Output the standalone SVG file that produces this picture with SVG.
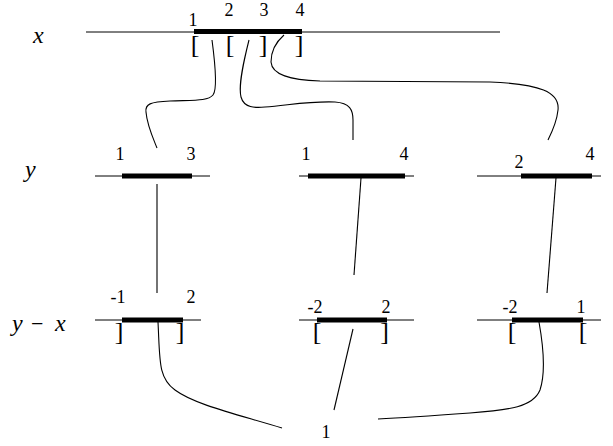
<svg xmlns="http://www.w3.org/2000/svg" width="613" height="446" viewBox="0 0 613 446">
<style>
.axis{stroke:#000;stroke-width:1;fill:none}
.bar{stroke:#000;stroke-width:5;fill:none}
.conn{stroke:#000;stroke-width:1.1;fill:none}
.num{font-size:18px;fill:#000;text-anchor:middle}
.br{font-size:26px;fill:#000}
.var{font-size:24px;font-style:italic;fill:#000}
.op{font-size:22px;font-style:normal;fill:#000}
</style>
<rect width="613" height="446" fill="#fff"/>
<g font-family="'Liberation Serif', 'DejaVu Serif', serif">
<g id="labels">
<text class="var" x="33" y="43">x</text>
<text class="var" x="25" y="177">y</text>
<text class="var" y="331"><tspan x="12">y</tspan><tspan class="op" x="31">−</tspan><tspan x="55">x</tspan></text>
</g>
<g id="x-row">
<line class="axis" x1="86" y1="32" x2="500" y2="32"/>
<line class="bar" x1="194" y1="31.5" x2="302" y2="31.5"/>
<text class="num" x="193" y="26">1</text>
<text class="num" x="229" y="16">2</text>
<text class="num" x="264" y="16">3</text>
<text class="num" x="300" y="16">4</text>
<text class="br" x="190.7" y="53">[</text>
<text class="br" x="225.7" y="53">[</text>
<text class="br" x="258.7" y="53">]</text>
<text class="br" x="294.7" y="53">]</text>
</g>
<g id="y-1">
<line class="axis" x1="95" y1="176" x2="210" y2="176"/>
<line class="bar" x1="122" y1="176" x2="192" y2="176"/>
<text class="num" x="120" y="160">1</text>
<text class="num" x="191" y="160">3</text>
</g>
<g id="y-2">
<line class="axis" x1="299" y1="176" x2="414" y2="176"/>
<line class="bar" x1="308" y1="176" x2="405" y2="176"/>
<text class="num" x="306" y="160">1</text>
<text class="num" x="404" y="160">4</text>
</g>
<g id="y-3">
<line class="axis" x1="477" y1="176" x2="601" y2="176"/>
<line class="bar" x1="521" y1="176" x2="592" y2="176"/>
<text class="num" x="519" y="168">2</text>
<text class="num" x="590" y="160">4</text>
</g>
<g id="yx-1">
<line class="axis" x1="95" y1="320" x2="201" y2="320"/>
<line class="bar" x1="122" y1="320" x2="183" y2="320"/>
<text class="num" x="118" y="303">-1</text>
<text class="num" x="191" y="303">2</text>
<text class="br" x="114.7" y="340">]</text>
<text class="br" x="175.7" y="340">]</text>
</g>
<g id="yx-2">
<line class="axis" x1="299" y1="320" x2="414" y2="320"/>
<line class="bar" x1="317" y1="320" x2="387" y2="320"/>
<text class="num" x="315" y="313">-2</text>
<text class="num" x="386" y="313">2</text>
<text class="br" x="312.7" y="340">[</text>
<text class="br" x="380.2" y="340">]</text>
</g>
<g id="yx-3">
<line class="axis" x1="477" y1="320" x2="601" y2="320"/>
<line class="bar" x1="512" y1="320" x2="583" y2="320"/>
<text class="num" x="510" y="313">-2</text>
<text class="num" x="581" y="313">1</text>
<text class="br" x="507.7" y="340">[</text>
<text class="br" x="578.7" y="340">[</text>
</g>
<g id="result">
<text class="num" x="326" y="438">1</text>
</g>
</g>
<g id="connectors">
<path class="conn" d="M 212 40 C 216 70, 217 90, 213 95 C 208 101, 195 100, 170 101 C 150 102, 145 104, 146 112 C 147 125, 153 138, 157 148"/>
<path class="conn" d="M 249 40 C 244 60, 238 85, 241 97 C 244 108, 255 108, 265 107 C 290 105, 310 101, 335 102 C 350 103, 353 110, 353 120 L 353 140"/>
<path class="conn" d="M 284 35 C 276 42, 271 52, 271 62 C 272 75, 290 80, 320 81 L 490 82 C 540 84, 560 92, 558 110 C 557 120, 553 130, 548 140"/>
<line class="conn" x1="157" y1="184" x2="157" y2="293"/>
<line class="conn" x1="361" y1="178" x2="354" y2="275"/>
<line class="conn" x1="556" y1="178" x2="547" y2="293"/>
<path class="conn" d="M 158 322 C 160 360, 158 378, 175 390 C 195 405, 240 415, 282 428"/>
<line class="conn" x1="353" y1="329" x2="334" y2="410"/>
<path class="conn" d="M 539 322 C 544 350, 545 375, 540 390 C 533 407, 510 410, 470 413 C 430 416, 400 418, 378 419"/>
</g>
</svg>
